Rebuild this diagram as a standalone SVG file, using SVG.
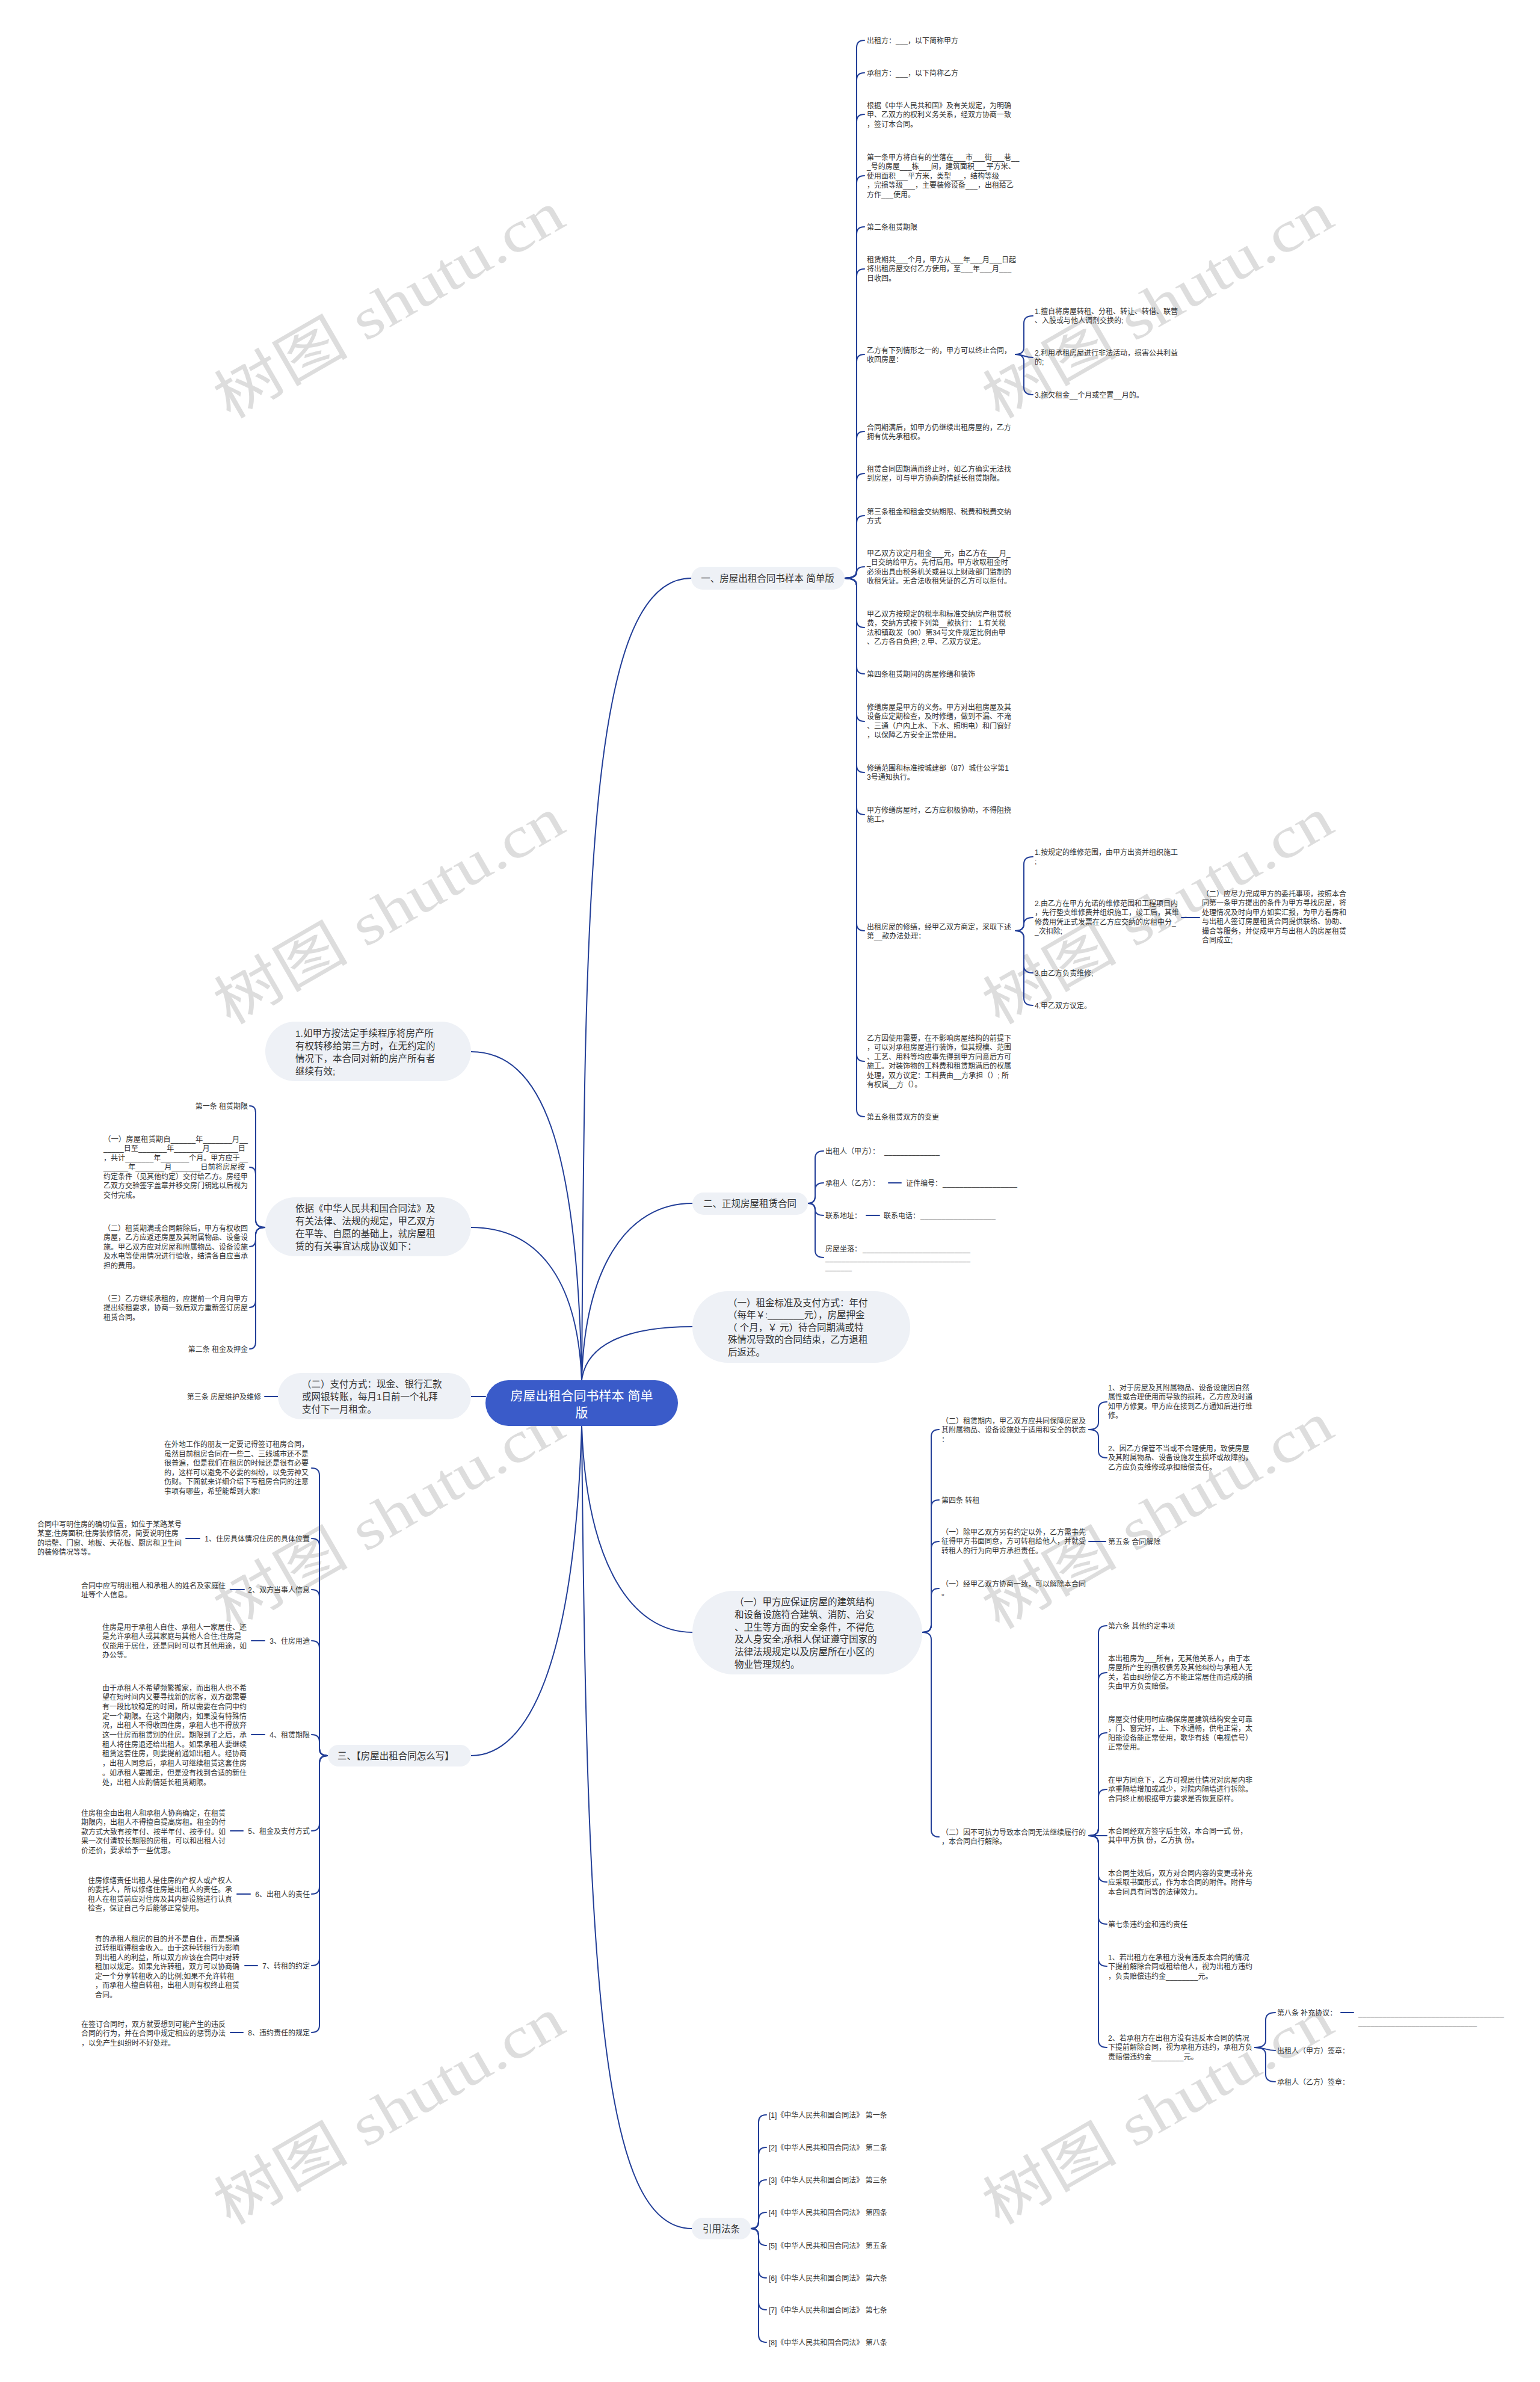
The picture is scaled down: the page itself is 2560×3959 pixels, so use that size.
<svg xmlns="http://www.w3.org/2000/svg" width="2560" height="3959" viewBox="0 0 2560 3959">
<style>
.ln{fill:none;stroke:#233f98;stroke-width:2;stroke-linecap:round}
.t{font-family:"Liberation Sans","Noto Sans CJK SC",sans-serif;font-size:12px;fill:#333}
.nt{font-family:"Liberation Sans","Noto Sans CJK SC",sans-serif;font-size:15.5px;fill:#333}
.nb{fill:#eef1f6}
.cb{fill:#3a5bc9}
.ct{font-family:"Liberation Sans","Noto Sans CJK SC",sans-serif;font-size:21px;fill:#fff;text-anchor:middle}
.e{text-anchor:end}
.m{text-anchor:middle}
.wm{font-family:"Liberation Serif","Noto Sans CJK SC",serif;font-size:96px;fill:#999;opacity:.33;text-anchor:middle}
</style>
<rect width="2560" height="3959" fill="#fff"/>
<g id="watermarks">
<text class="wm" transform="translate(647 508) rotate(-30)" y="32" textLength="650" lengthAdjust="spacingAndGlyphs">树图 shutu.cn</text>
<text class="wm" transform="translate(1925 508) rotate(-30)" y="32" textLength="650" lengthAdjust="spacingAndGlyphs">树图 shutu.cn</text>
<text class="wm" transform="translate(647 1515) rotate(-30)" y="32" textLength="650" lengthAdjust="spacingAndGlyphs">树图 shutu.cn</text>
<text class="wm" transform="translate(1925 1515) rotate(-30)" y="32" textLength="650" lengthAdjust="spacingAndGlyphs">树图 shutu.cn</text>
<text class="wm" transform="translate(647 2520) rotate(-30)" y="32" textLength="650" lengthAdjust="spacingAndGlyphs">树图 shutu.cn</text>
<text class="wm" transform="translate(1925 2520) rotate(-30)" y="32" textLength="650" lengthAdjust="spacingAndGlyphs">树图 shutu.cn</text>
<text class="wm" transform="translate(647 3510) rotate(-30)" y="32" textLength="650" lengthAdjust="spacingAndGlyphs">树图 shutu.cn</text>
<text class="wm" transform="translate(1925 3510) rotate(-30)" y="32" textLength="650" lengthAdjust="spacingAndGlyphs">树图 shutu.cn</text>
</g>
<g id="connectors" class="ln">
<path d="M967 2294C972 1500 975 961 1149 961"/>
<path d="M967 2294C960 1900 900 1748 783 1748"/>
<path d="M967 2294C960 2120 890 2040 783 2040"/>
<path d="M967 2294C972 2110 1040 2000 1151 2000"/>
<path d="M967 2294C975 2230 1050 2205 1151 2205"/>
<path d="M807 2321H783"/>
<path d="M967 2370C975 2600 1050 2713 1151 2713"/>
<path d="M967 2370C955 2760 880 2918 783 2918"/>
<path d="M967 2370C975 3300 1000 3704 1150 3704"/>
<path d="M1404 961Q1424 961 1424 949V79Q1424 67 1437 67"/>
<path d="M1404 961Q1424 961 1424 949V133Q1424 121 1437 121"/>
<path d="M1404 961Q1424 961 1424 949V202Q1424 190 1437 190"/>
<path d="M1404 961Q1424 961 1424 949V304Q1424 292 1437 292"/>
<path d="M1404 961Q1424 961 1424 949V389Q1424 377 1437 377"/>
<path d="M1404 961Q1424 961 1424 949V459Q1424 447 1437 447"/>
<path d="M1404 961Q1424 961 1424 949V601Q1424 589 1437 589"/>
<path d="M1404 961Q1424 961 1424 949V729Q1424 717 1437 717"/>
<path d="M1404 961Q1424 961 1424 949V799Q1424 787 1437 787"/>
<path d="M1404 961Q1424 961 1424 949V869Q1424 857 1437 857"/>
<path d="M1404 961Q1424 961 1424 952Q1424 942 1437 942"/>
<path d="M1404 961Q1424 961 1424 973V1031Q1424 1043 1437 1043"/>
<path d="M1404 961Q1424 961 1424 973V1108Q1424 1120 1437 1120"/>
<path d="M1404 961Q1424 961 1424 973V1187Q1424 1199 1437 1199"/>
<path d="M1404 961Q1424 961 1424 973V1272Q1424 1284 1437 1284"/>
<path d="M1404 961Q1424 961 1424 973V1342Q1424 1354 1437 1354"/>
<path d="M1404 961Q1424 961 1424 973V1535Q1424 1547 1437 1547"/>
<path d="M1404 961Q1424 961 1424 973V1752Q1424 1764 1437 1764"/>
<path d="M1404 961Q1424 961 1424 973V1844Q1424 1856 1437 1856"/>
<path d="M1688 589Q1702 589 1702 577V537Q1702 525 1717 525"/>
<path d="M1688 589C1702 589 1702 594 1717 594"/>
<path d="M1688 589Q1702 589 1702 601V644Q1702 656 1717 656"/>
<path d="M1688 1547Q1702 1547 1702 1535V1436Q1702 1424 1717 1424"/>
<path d="M1688 1547Q1702 1547 1702 1536Q1702 1525 1717 1525"/>
<path d="M1688 1547Q1702 1547 1702 1559V1605Q1702 1617 1717 1617"/>
<path d="M1688 1547Q1702 1547 1702 1559V1659Q1702 1671 1717 1671"/>
<path d="M1964 1525H1994"/>
<path d="M1343 2000Q1355 2000 1355 1988V1925Q1355 1913 1369 1913"/>
<path d="M1343 2000Q1355 2000 1355 1988V1978Q1355 1966 1369 1966"/>
<path d="M1343 2000Q1355 2000 1355 2010Q1355 2020 1369 2020"/>
<path d="M1343 2000Q1355 2000 1355 2012V2078Q1355 2090 1369 2090"/>
<path d="M1477 1966H1498"/>
<path d="M1440 2020H1462"/>
<path d="M1533 2713Q1548 2713 1548 2701V2388Q1548 2376 1561 2376"/>
<path d="M1533 2713Q1548 2713 1548 2701V2505Q1548 2493 1561 2493"/>
<path d="M1533 2713Q1548 2713 1548 2701V2574Q1548 2562 1561 2562"/>
<path d="M1533 2713Q1548 2713 1548 2701V2652Q1548 2640 1561 2640"/>
<path d="M1533 2713Q1548 2713 1548 2725V3041Q1548 3053 1561 3053"/>
<path d="M1810 2376Q1826 2376 1826 2364V2342Q1826 2330 1840 2330"/>
<path d="M1810 2376Q1826 2376 1826 2388V2411Q1826 2423 1840 2423"/>
<path d="M1810 2562H1838"/>
<path d="M1810 3051Q1826 3051 1826 3039V2714Q1826 2702 1840 2702"/>
<path d="M1810 3051Q1826 3051 1826 3039V2792Q1826 2780 1840 2780"/>
<path d="M1810 3051Q1826 3051 1826 3039V2892Q1826 2880 1840 2880"/>
<path d="M1810 3051Q1826 3051 1826 3039V2986Q1826 2974 1840 2974"/>
<path d="M1810 3051H1840"/>
<path d="M1810 3051Q1826 3051 1826 3063V3116Q1826 3128 1840 3128"/>
<path d="M1810 3051Q1826 3051 1826 3063V3186Q1826 3198 1840 3198"/>
<path d="M1810 3051Q1826 3051 1826 3063V3256Q1826 3268 1840 3268"/>
<path d="M1810 3051Q1826 3051 1826 3063V3391Q1826 3403 1840 3403"/>
<path d="M2086 3403Q2104 3403 2104 3391V3357Q2104 3345 2120 3345"/>
<path d="M2086 3403C2104 3403 2104 3408 2120 3408"/>
<path d="M2086 3403Q2104 3403 2104 3415V3448Q2104 3460 2120 3460"/>
<path d="M2229 3345H2250"/>
<path d="M1248 3704Q1261 3704 1261 3692V3527Q1261 3515 1274 3515"/>
<path d="M1248 3704Q1261 3704 1261 3692V3581Q1261 3569 1274 3569"/>
<path d="M1248 3704Q1261 3704 1261 3692V3635Q1261 3623 1274 3623"/>
<path d="M1248 3704Q1261 3704 1261 3692V3689Q1261 3677 1274 3677"/>
<path d="M1248 3704Q1261 3704 1261 3716V3720Q1261 3732 1274 3732"/>
<path d="M1248 3704Q1261 3704 1261 3716V3774Q1261 3786 1274 3786"/>
<path d="M1248 3704Q1261 3704 1261 3716V3827Q1261 3839 1274 3839"/>
<path d="M1248 3704Q1261 3704 1261 3716V3881Q1261 3893 1274 3893"/>
<path d="M545 2918Q531 2918 531 2906V2452Q531 2440 518 2440"/>
<path d="M545 2918Q531 2918 531 2906V2569Q531 2557 518 2557"/>
<path d="M545 2918Q531 2918 531 2906V2654Q531 2642 518 2642"/>
<path d="M545 2918Q531 2918 531 2906V2739Q531 2727 518 2727"/>
<path d="M545 2918Q531 2918 531 2906V2895Q531 2883 518 2883"/>
<path d="M545 2918Q531 2918 531 2930V3031Q531 3043 518 3043"/>
<path d="M545 2918Q531 2918 531 2930V3136Q531 3148 518 3148"/>
<path d="M545 2918Q531 2918 531 2930V3255Q531 3267 518 3267"/>
<path d="M545 2918Q531 2918 531 2930V3366Q531 3378 518 3378"/>
<path d="M332 2557H309"/>
<path d="M406 2642H383"/>
<path d="M440 2727H418"/>
<path d="M440 2883H418"/>
<path d="M404 3043H383"/>
<path d="M416 3148H394"/>
<path d="M428 3267H407"/>
<path d="M404 3378H383"/>
<path d="M441 2040Q425 2040 425 2028V1850Q425 1838 415 1838"/>
<path d="M441 2040Q425 2040 425 2028V1952Q425 1940 415 1940"/>
<path d="M441 2040Q425 2040 425 2052V2060Q425 2072 415 2072"/>
<path d="M441 2040Q425 2040 425 2052V2161Q425 2173 415 2173"/>
<path d="M441 2040Q425 2040 425 2052V2230Q425 2242 415 2242"/>
<path d="M462 2321H440"/>
</g>
<g id="center">
<rect class="cb" x="807" y="2294" width="320" height="76" rx="38"/>
<text class="ct"><tspan x="967" y="2327">房屋出租合同书样本 简单</tspan><tspan x="967" y="2355">版</tspan></text>
</g>
<g id="n1">
<rect class="nb" x="1149" y="942" width="255" height="38" rx="19"/>
<text class="nt m" x="1276" y="966.7">一、房屋出租合同书样本 简单版</text>
</g>
<g id="n1-items">
<text class="t"><tspan x="1441" y="71.5">出租方：___，以下简称甲方</tspan></text>
<text class="t"><tspan x="1441" y="125.5">承租方：___，以下简称乙方</tspan></text>
<text class="t"><tspan x="1441" y="179.5">根据《中华人民共和国》及有关规定，为明确</tspan><tspan x="1441" y="195">甲、乙双方的权利义务关系，经双方协商一致</tspan><tspan x="1441" y="210.5">，签订本合同。</tspan></text>
<text class="t"><tspan x="1441" y="265.5">第一条甲方将自有的坐落在___市___街___巷__</tspan><tspan x="1441" y="281">_号的房屋___栋___间，建筑面积___平方米、</tspan><tspan x="1441" y="296.5">使用面积___平方米，类型___，结构等级___</tspan><tspan x="1441" y="312">，完损等级___，主要装修设备___，出租给乙</tspan><tspan x="1441" y="327.5">方作___使用。</tspan></text>
<text class="t"><tspan x="1441" y="381.5">第二条租赁期限</tspan></text>
<text class="t"><tspan x="1441" y="435.5">租赁期共___个月，甲方从___年___月___日起</tspan><tspan x="1441" y="451">将出租房屋交付乙方使用，至___年___月___</tspan><tspan x="1441" y="466.5">日收回。</tspan></text>
<text class="t"><tspan x="1441" y="586.5">乙方有下列情形之一的，甲方可以终止合同，</tspan><tspan x="1441" y="602">收回房屋：</tspan></text>
<text class="t"><tspan x="1720" y="521.5">1.擅自将房屋转租、分租、转让、转借、联营</tspan><tspan x="1720" y="537">、入股或与他人调剂交换的;</tspan></text>
<text class="t"><tspan x="1720" y="590.5">2.利用承租房屋进行非法活动，损害公共利益</tspan><tspan x="1720" y="606">的;</tspan></text>
<text class="t"><tspan x="1720" y="660.5">3.拖欠租金__个月或空置__月的。</tspan></text>
<text class="t"><tspan x="1441" y="714.5">合同期满后，如甲方仍继续出租房屋的，乙方</tspan><tspan x="1441" y="730">拥有优先承租权。</tspan></text>
<text class="t"><tspan x="1441" y="783.5">租赁合同因期满而终止时，如乙方确实无法找</tspan><tspan x="1441" y="799">到房屋，可与甲方协商酌情延长租赁期限。</tspan></text>
<text class="t"><tspan x="1441" y="854.5">第三条租金和租金交纳期限、税费和税费交纳</tspan><tspan x="1441" y="870">方式</tspan></text>
<text class="t"><tspan x="1441" y="923.5">甲乙双方议定月租金___元，由乙方在___月_</tspan><tspan x="1441" y="939">_日交纳给甲方。先付后用。甲方收取租金时</tspan><tspan x="1441" y="954.5">必须出具由税务机关或县以上财政部门监制的</tspan><tspan x="1441" y="970">收租凭证。无合法收租凭证的乙方可以拒付。</tspan></text>
<text class="t"><tspan x="1441" y="1024.5">甲乙双方按规定的税率和标准交纳房产租赁税</tspan><tspan x="1441" y="1040">费，交纳方式按下列第__款执行：  1.有关税</tspan><tspan x="1441" y="1055.5">法和镇政发（90）第34号文件规定比例由甲</tspan><tspan x="1441" y="1071">、乙方各自负担; 2.甲、乙双方议定。</tspan></text>
<text class="t"><tspan x="1441" y="1124.5">第四条租赁期间的房屋修缮和装饰</tspan></text>
<text class="t"><tspan x="1441" y="1179.5">修缮房屋是甲方的义务。甲方对出租房屋及其</tspan><tspan x="1441" y="1195">设备应定期检查，及时修缮，做到不漏、不淹</tspan><tspan x="1441" y="1210.5">、三通（户内上水、下水、照明电）和门窗好</tspan><tspan x="1441" y="1226">，以保障乙方安全正常使用。</tspan></text>
<text class="t"><tspan x="1441" y="1280.5">修缮范围和标准按城建部（87）城住公字第1</tspan><tspan x="1441" y="1296">3号通知执行。</tspan></text>
<text class="t"><tspan x="1441" y="1350.5">甲方修缮房屋时，乙方应积极协助，不得阻挠</tspan><tspan x="1441" y="1366">施工。</tspan></text>
<text class="t"><tspan x="1441" y="1544.5">出租房屋的修缮，经甲乙双方商定，采取下述</tspan><tspan x="1441" y="1560">第__款办法处理：</tspan></text>
<text class="t"><tspan x="1720" y="1420.5">1.按规定的维修范围，由甲方出资并组织施工</tspan><tspan x="1720" y="1436">;</tspan></text>
<text class="t"><tspan x="1720" y="1505.5">2.由乙方在甲方允诺的维修范围和工程项目内</tspan><tspan x="1720" y="1521">，先行垫支维修费并组织施工，竣工后，其维</tspan><tspan x="1720" y="1536.5">修费用凭正式发票在乙方应交纳的房租中分_</tspan><tspan x="1720" y="1552">_次扣除;</tspan></text>
<text class="t"><tspan x="1998" y="1489.5">（二）应尽力完成甲方的委托事项，按照本合</tspan><tspan x="1998" y="1505">同第一条甲方提出的条件为甲方寻找房屋，将</tspan><tspan x="1998" y="1520.5">处理情况及时向甲方如实汇报，为甲方看房和</tspan><tspan x="1998" y="1536">与出租人签订房屋租赁合同提供联络、协助、</tspan><tspan x="1998" y="1551.5">撮合等服务，并促成甲方与出租人的房屋租赁</tspan><tspan x="1998" y="1567">合同成立;</tspan></text>
<text class="t"><tspan x="1720" y="1621.5">3.由乙方负责维修;</tspan></text>
<text class="t"><tspan x="1720" y="1675.5">4.甲乙双方议定。</tspan></text>
<text class="t"><tspan x="1441" y="1729.5">乙方因使用需要，在不影响房屋结构的前提下</tspan><tspan x="1441" y="1745">，可以对承租房屋进行装饰，但其规模、范围</tspan><tspan x="1441" y="1760.5">、工艺、用料等均应事先得到甲方同意后方可</tspan><tspan x="1441" y="1776">施工。对装饰物的工料费和租赁期满后的权属</tspan><tspan x="1441" y="1791.5">处理，双方议定：工料费由__方承担（）; 所</tspan><tspan x="1441" y="1807">有权属__方（）。</tspan></text>
<text class="t"><tspan x="1441" y="1860.5">第五条租赁双方的变更</tspan></text>
</g>
<g id="n2">
<rect class="nb" x="1151" y="1982" width="192" height="37" rx="18.5"/>
<text class="nt" x="1169" y="2005.7">二、正规房屋租赁合同</text>
</g>
<g id="n2-items">
<text class="t" x="1372" y="1917.5">出租人（甲方）：</text>
<text class="t" x="1470" y="1917.5" textLength="92" lengthAdjust="spacingAndGlyphs">______________</text>
<text class="t" x="1372" y="1970.5">承租人（乙方）：</text>
<text class="t" x="1506" y="1970.5">证件编号：</text>
<text class="t" x="1567" y="1970.5" textLength="124" lengthAdjust="spacingAndGlyphs">__________________</text>
<text class="t" x="1372" y="2024.5">联系地址：</text>
<text class="t" x="1469" y="2024.5">联系电话：</text>
<text class="t" x="1530" y="2024.5" textLength="125" lengthAdjust="spacingAndGlyphs">__________________</text>
<text class="t" x="1372" y="2079.5">房屋坐落：</text>
<text class="t" x="1434" y="2079.5" textLength="179" lengthAdjust="spacingAndGlyphs">___________________________</text>
<text class="t" x="1372" y="2094.5" textLength="241" lengthAdjust="spacingAndGlyphs">____________________________________</text>
<text class="t" x="1372" y="2109.5" textLength="44" lengthAdjust="spacingAndGlyphs">_______</text>
</g>
<g id="n3">
<rect class="nb" x="1151" y="2146" width="362" height="119" rx="59"/>
<text class="nt"><tspan x="1210" y="2170.7">（一）租金标准及支付方式：年付</tspan><tspan x="1210" y="2191.2">（每年￥:_______元），房屋押金</tspan><tspan x="1210" y="2211.7">（ 个月，￥ 元）待合同期满或特</tspan><tspan x="1210" y="2232.2">殊情况导致的合同结束，乙方退租</tspan><tspan x="1210" y="2252.7">后返还。</tspan></text>
</g>
<g id="n4">
<rect class="nb" x="1151" y="2644" width="382" height="139" rx="69"/>
<text class="nt"><tspan x="1221" y="2668.2">（一）甲方应保证房屋的建筑结构</tspan><tspan x="1221" y="2688.9">和设备设施符合建筑、消防、治安</tspan><tspan x="1221" y="2709.6">、卫生等方面的安全条件，不得危</tspan><tspan x="1221" y="2730.3">及人身安全;承租人保证遵守国家的</tspan><tspan x="1221" y="2751">法律法规规定以及房屋所在小区的</tspan><tspan x="1221" y="2771.7">物业管理规约。</tspan></text>
</g>
<g id="n4-items">
<text class="t"><tspan x="1565" y="2365.5">（二）租赁期内，甲乙双方应共同保障房屋及</tspan><tspan x="1565" y="2381">其附属物品、设备设施处于适用和安全的状态</tspan><tspan x="1565" y="2396.5">：</tspan></text>
<text class="t"><tspan x="1842" y="2310.5">1、对于房屋及其附属物品、设备设施因自然</tspan><tspan x="1842" y="2326">属性或合理使用而导致的损耗，乙方应及时通</tspan><tspan x="1842" y="2341.5">知甲方修复。甲方应在接到乙方通知后进行维</tspan><tspan x="1842" y="2357">修。</tspan></text>
<text class="t"><tspan x="1842" y="2411.5">2、因乙方保管不当或不合理使用，致使房屋</tspan><tspan x="1842" y="2427">及其附属物品、设备设施发生损坏或故障的，</tspan><tspan x="1842" y="2442.5">乙方应负责维修或承担赔偿责任。</tspan></text>
<text class="t" x="1565" y="2497.5">第四条 转租</text>
<text class="t"><tspan x="1565" y="2550.5">（一）除甲乙双方另有约定以外，乙方需事先</tspan><tspan x="1565" y="2566">征得甲方书面同意，方可转租给他人，并就受</tspan><tspan x="1565" y="2581.5">转租人的行为向甲方承担责任。</tspan></text>
<text class="t" x="1842" y="2566.5">第五条 合同解除</text>
<text class="t"><tspan x="1565" y="2636.5">（一）经甲乙双方协商一致，可以解除本合同</tspan><tspan x="1565" y="2652">。</tspan></text>
<text class="t"><tspan x="1565" y="3049.5">（二）因不可抗力导致本合同无法继续履行的</tspan><tspan x="1565" y="3065">，本合同自行解除。</tspan></text>
<text class="t" x="1842" y="2706.5">第六条 其他约定事项</text>
<text class="t"><tspan x="1842" y="2760.5">本出租房为___所有，无其他关系人，由于本</tspan><tspan x="1842" y="2776">房屋所产生的债权债务及其他纠纷与承租人无</tspan><tspan x="1842" y="2791.5">关，若由纠纷使乙方不能正常居住而造成的损</tspan><tspan x="1842" y="2807">失由甲方负责赔偿。</tspan></text>
<text class="t"><tspan x="1842" y="2861.5">房屋交付使用时应确保房屋建筑结构安全可靠</tspan><tspan x="1842" y="2877">，门、窗完好，上、下水通畅，供电正常，太</tspan><tspan x="1842" y="2892.5">阳能设备能正常使用，歌华有线（电视信号）</tspan><tspan x="1842" y="2908">正常使用。</tspan></text>
<text class="t"><tspan x="1842" y="2962.5">在甲方同意下，乙方可视居住情况对房屋内非</tspan><tspan x="1842" y="2978">承重隔墙增加或减少，对院内隔墙进行拆除。</tspan><tspan x="1842" y="2993.5">合同终止前根据甲方要求是否恢复原样。</tspan></text>
<text class="t"><tspan x="1842" y="3047.5">本合同经双方签字后生效，本合同一式 份，</tspan><tspan x="1842" y="3063">其中甲方执 份，乙方执 份。</tspan></text>
<text class="t"><tspan x="1842" y="3117.5">本合同生效后，双方对合同内容的变更或补充</tspan><tspan x="1842" y="3133">应采取书面形式，作为本合同的附件。附件与</tspan><tspan x="1842" y="3148.5">本合同具有同等的法律效力。</tspan></text>
<text class="t" x="1842" y="3202.5">第七条违约金和违约责任</text>
<text class="t"><tspan x="1842" y="3257.5">1、若出租方在承租方没有违反本合同的情况</tspan><tspan x="1842" y="3273">下提前解除合同或租给他人，视为出租方违约</tspan><tspan x="1842" y="3288.5">，负责赔偿违约金________元。</tspan></text>
<text class="t"><tspan x="1842" y="3391.5">2、若承租方在出租方没有违反本合同的情况</tspan><tspan x="1842" y="3407">下提前解除合同，视为承租方违约，承租方负</tspan><tspan x="1842" y="3422.5">责赔偿违约金________元。</tspan></text>
<text class="t" x="2123" y="3349.5">第八条 补充协议：</text>
<text class="t" x="2258" y="3349.5" textLength="242" lengthAdjust="spacingAndGlyphs">____________________________________</text>
<text class="t" x="2258" y="3364.5" textLength="197" lengthAdjust="spacingAndGlyphs">_____________________________</text>
<text class="t" x="2123" y="3412.5">出租人（甲方）签章：</text>
<text class="t" x="2123" y="3464.5">承租人（乙方）签章：</text>
</g>
<g id="n5">
<rect class="nb" x="1150" y="3686" width="98" height="36" rx="18"/>
<text class="nt m" x="1199" y="3709.7">引用法条</text>
</g>
<g id="n5-items">
<text class="t" x="1278" y="3519.5">[1]《中华人民共和国合同法》 第一条</text>
<text class="t" x="1278" y="3573.5">[2]《中华人民共和国合同法》 第二条</text>
<text class="t" x="1278" y="3627.5">[3]《中华人民共和国合同法》 第三条</text>
<text class="t" x="1278" y="3681.5">[4]《中华人民共和国合同法》 第四条</text>
<text class="t" x="1278" y="3736.5">[5]《中华人民共和国合同法》 第五条</text>
<text class="t" x="1278" y="3790.5">[6]《中华人民共和国合同法》 第六条</text>
<text class="t" x="1278" y="3843.5">[7]《中华人民共和国合同法》 第七条</text>
<text class="t" x="1278" y="3897.5">[8]《中华人民共和国合同法》 第八条</text>
</g>
<g id="n6">
<rect class="nb" x="441" y="1698" width="342" height="99" rx="49.5"/>
<text class="nt"><tspan x="491" y="1722.7">1.如甲方按法定手续程序将房产所</tspan><tspan x="491" y="1743.7">有权转移给第三方时，在无约定的</tspan><tspan x="491" y="1764.7">情况下，本合同对新的房产所有者</tspan><tspan x="491" y="1785.7">继续有效;</tspan></text>
</g>
<g id="n7">
<rect class="nb" x="441" y="1990" width="342" height="98" rx="49"/>
<text class="nt"><tspan x="491" y="2013.7">依据《中华人民共和国合同法》及</tspan><tspan x="491" y="2034.7">有关法律、法规的规定，甲乙双方</tspan><tspan x="491" y="2055.7">在平等、自愿的基础上，就房屋租</tspan><tspan x="491" y="2076.7">赁的有关事宜达成协议如下：</tspan></text>
</g>
<g id="n7-items">
<text class="t e" x="412" y="1842.5">第一条 租赁期限</text>
<text class="t"><tspan x="172" y="1897.5" textLength="240" lengthAdjust="spacingAndGlyphs">（一）房屋租赁期自______年_______月__</tspan><tspan x="172" y="1913" textLength="236" lengthAdjust="spacingAndGlyphs">_____日至_______年_______月_______日</tspan><tspan x="172" y="1928.5" textLength="240" lengthAdjust="spacingAndGlyphs">，共计_______年_______个月。甲方应于__</tspan><tspan x="172" y="1944" textLength="235" lengthAdjust="spacingAndGlyphs">______年_______月_______日前将房屋按</tspan><tspan x="172" y="1959.5">约定条件（见其他约定）交付给乙方。房经甲</tspan><tspan x="172" y="1975">乙双方交验签字盖章并移交房门钥匙以后视为</tspan><tspan x="172" y="1990.5">交付完成。</tspan></text>
<text class="t"><tspan x="172" y="2045.5">（二）租赁期满或合同解除后，甲方有权收回</tspan><tspan x="172" y="2061">房屋，乙方应返还房屋及其附属物品、设备设</tspan><tspan x="172" y="2076.5">施。甲乙双方应对房屋和附属物品、设备设施</tspan><tspan x="172" y="2092">及水电等使用情况进行验收，结清各自应当承</tspan><tspan x="172" y="2107.5">担的费用。</tspan></text>
<text class="t"><tspan x="172" y="2162.5">（三）乙方继续承租的，应提前一个月向甲方</tspan><tspan x="172" y="2178">提出续租要求，协商一致后双方重新签订房屋</tspan><tspan x="172" y="2193.5">租赁合同。</tspan></text>
<text class="t e" x="412" y="2246.5">第二条 租金及押金</text>
</g>
<g id="n8">
<rect class="nb" x="462" y="2282" width="321" height="77" rx="38"/>
<text class="nt"><tspan x="502" y="2305.7">（二）支付方式：现金、银行汇款</tspan><tspan x="502" y="2326.7">或网银转账，每月1日前一个礼拜</tspan><tspan x="502" y="2347.7">支付下一月租金。</tspan></text>
<text class="t e" x="434" y="2325.5">第三条 房屋维护及维修</text>
</g>
<g id="n9">
<rect class="nb" x="545" y="2900" width="238" height="36" rx="18"/>
<text class="nt" x="561" y="2923.7">三、【房屋出租合同怎么写】</text>
</g>
<g id="n9-items">
<text class="t"><tspan x="273" y="2405">在外地工作的朋友一定要记得签订租房合同，</tspan><tspan x="273" y="2420.5">虽然目前租房合同在一些二、三线城市还不是</tspan><tspan x="273" y="2436">很普遍，但是我们在租房的时候还是很有必要</tspan><tspan x="273" y="2451.5">的，这样可以避免不必要的纠纷，以免劳神又</tspan><tspan x="273" y="2467">伤财。下面就来详细介绍下写租房合同的注意</tspan><tspan x="273" y="2482.5">事项有哪些，希望能帮到大家!</tspan></text>
<text class="t e" x="515" y="2561.5">1、住房具体情况住房的具体位置</text>
<text class="t"><tspan x="62" y="2537.5">合同中写明住房的确切位置，如位于某路某号</tspan><tspan x="62" y="2553">某室;住房面积;住房装修情况，简要说明住房</tspan><tspan x="62" y="2568.5">的墙壁、门窗、地板、天花板、厨房和卫生间</tspan><tspan x="62" y="2584">的装修情况等等。</tspan></text>
<text class="t e" x="515" y="2646.5">2、双方当事人信息</text>
<text class="t"><tspan x="135" y="2639.5">合同中应写明出租人和承租人的姓名及家庭住</tspan><tspan x="135" y="2655">址等个人信息。</tspan></text>
<text class="t e" x="515" y="2731.5">3、住房用途</text>
<text class="t"><tspan x="170" y="2708.5">住房是用于承租人自住、承租人一家居住、还</tspan><tspan x="170" y="2724">是允许承租人或其家庭与其他人合住;住房是</tspan><tspan x="170" y="2739.5">仅能用于居住，还是同时可以有其他用途，如</tspan><tspan x="170" y="2755">办公等。</tspan></text>
<text class="t e" x="515" y="2887.5">4、租赁期限</text>
<text class="t"><tspan x="170" y="2809.5">由于承租人不希望频繁搬家，而出租人也不希</tspan><tspan x="170" y="2825.2">望在短时间内又要寻找新的房客，双方都需要</tspan><tspan x="170" y="2840.9">有一段比较稳定的时间，所以需要在合同中约</tspan><tspan x="170" y="2856.6">定一个期限。在这个期限内，如果没有特殊情</tspan><tspan x="170" y="2872.3">况，出租人不得收回住房，承租人也不得放弃</tspan><tspan x="170" y="2888">这一住房而租赁别的住房。期限到了之后，承</tspan><tspan x="170" y="2903.7">租人将住房退还给出租人。如果承租人要继续</tspan><tspan x="170" y="2919.4">租赁这套住房，则要提前通知出租人。经协商</tspan><tspan x="170" y="2935.1">，出租人同意后，承租人可继续租赁这套住房</tspan><tspan x="170" y="2950.8">。如承租人要搬走，但是没有找到合适的新住</tspan><tspan x="170" y="2966.5">处，出租人应酌情延长租赁期限。</tspan></text>
<text class="t e" x="515" y="3047.5">5、租金及支付方式</text>
<text class="t"><tspan x="135" y="3017.5">住房租金由出租人和承租人协商确定，在租赁</tspan><tspan x="135" y="3033">期限内，出租人不得擅自提高房租。租金的付</tspan><tspan x="135" y="3048.5">款方式大致有按年付、按半年付、按季付。如</tspan><tspan x="135" y="3064">果一次付清较长期限的房租，可以和出租人讨</tspan><tspan x="135" y="3079.5">价还价，要求给予一些优惠。</tspan></text>
<text class="t e" x="515" y="3152.5">6、出租人的责任</text>
<text class="t"><tspan x="146" y="3129.5">住房修缮责任出租人是住房的产权人或产权人</tspan><tspan x="146" y="3145">的委托人，所以修缮住房是出租人的责任。承</tspan><tspan x="146" y="3160.5">租人在租赁前应对住房及其内部设施进行认真</tspan><tspan x="146" y="3176">检查，保证自己今后能够正常使用。</tspan></text>
<text class="t e" x="515" y="3271.5">7、转租的约定</text>
<text class="t"><tspan x="158" y="3226.5">有的承租人租房的目的并不是自住，而是想通</tspan><tspan x="158" y="3242">过转租取得租金收入。由于这种转租行为影响</tspan><tspan x="158" y="3257.5">到出租人的利益，所以双方应该在合同中对转</tspan><tspan x="158" y="3273">租加以规定。如果允许转租，双方可以协商确</tspan><tspan x="158" y="3288.5">定一个分享转租收入的比例;如果不允许转租</tspan><tspan x="158" y="3304">，而承租人擅自转租，出租人则有权终止租赁</tspan><tspan x="158" y="3319.5">合同。</tspan></text>
<text class="t e" x="515" y="3382.5">8、违约责任的规定</text>
<text class="t"><tspan x="135" y="3368.5">在签订合同时，双方就要想到可能产生的违反</tspan><tspan x="135" y="3384">合同的行为，并在合同中规定相应的惩罚办法</tspan><tspan x="135" y="3399.5">，以免产生纠纷时不好处理。</tspan></text>
</g>
</svg>
